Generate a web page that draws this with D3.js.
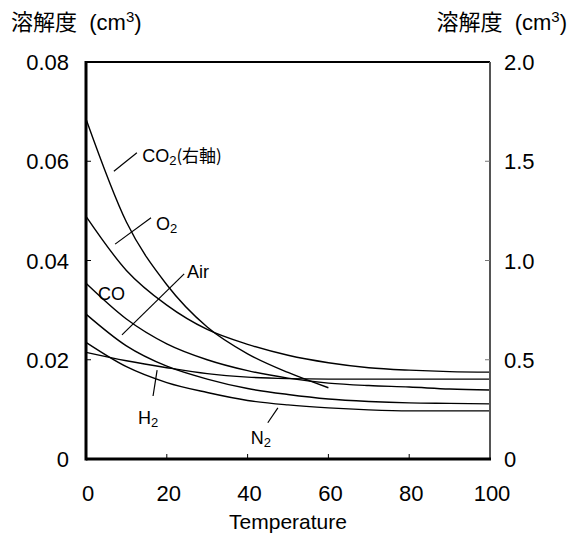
<!DOCTYPE html>
<html><head><meta charset="utf-8">
<script src="https://cdn.jsdelivr.net/npm/d3@7"></script>
<style>
body{margin:0;background:#fff;}
text{font-family:"Liberation Sans",Arial,"Noto Sans CJK JP",sans-serif;fill:#000;}
.cjk{font-family:"Noto Sans CJK JP",sans-serif;}
</style></head><body>
<svg id="c" width="571" height="535"></svg>
<script>
const temps = [0,10,20,30,40,50,60,70,80,90,100];
const co2Temps = [0,10,20,30,40,50,60];
const co2 = [1.713,1.194,0.878,0.665,0.530,0.436,0.359]; // right axis
const o2  = [0.0489,0.0380,0.0310,0.0261,0.0231,0.0209,0.0194,0.0184,0.0179,0.0176,0.0175];
const co  = [0.0354,0.0282,0.0232,0.0200,0.0178,0.0163,0.0153,0.0148,0.0145,0.0141,0.0139];
const air = [0.0292,0.0228,0.0187,0.0161,0.0142,0.0130,0.0121,0.0116,0.0113,0.0112,0.0111];
const n2  = [0.0235,0.0186,0.0154,0.0134,0.0118,0.0109,0.0103,0.0099,0.0097,0.0097,0.0097];
const h2  = [0.0215,0.0198,0.0184,0.0172,0.0165,0.0162,0.0161,0.0161,0.0161,0.0161,0.0161];
const xTicks = [0,20,40,60,80,100];
const yLeftTicks = [0,0.02,0.04,0.06,0.08];
const yLeftLabels = ["0","0.02","0.04","0.06","0.08"];
const yRightTicks = [0,0.5,1.0,1.5,2.0];
const yRightLabels = ["0","0.5","1.0","1.5","2.0"];
const axisTitle = "溶解度";
const xTitle = "Temperature";
// annotations in data coords (T, left-axis value)
const labels = [
  {main:"CO", sub:"2", tail:"(右軸)", t:13.9, v:0.0613, line:[[6.9,0.0580],[12.6,0.0617]]},
  {main:"O", sub:"2", tail:"", t:17.3, v:0.0476, line:[[7.2,0.0433],[16.1,0.0486]]},
  {main:"Air", sub:"", tail:"", t:25.0, v:0.0379, line:[[8.9,0.0250],[24.3,0.0373]]},
  {main:"CO", sub:"", tail:"", t:3.0, v:0.0334, line:null},
  {main:"H", sub:"2", tail:"", t:12.9, v:0.0085, line:[[16.6,0.0127],[17.6,0.0179]]},
  {main:"N", sub:"2", tail:"", t:40.8, v:0.0044, line:[[45,0.0073],[47.5,0.0103]]}
];

const svg = d3.select("#c");
const L=86, R=490, T=62, B=459;
const x = d3.scaleLinear().domain([0,100]).range([L,R]);
const y = d3.scaleLinear().domain([0,0.08]).range([B,T]);
const y2 = d3.scaleLinear().domain([0,2.0]).range([B,T]);

// curves
const line = d3.line().curve(d3.curveMonotoneX);
function drawSeries(ts, vs, ys){
  svg.append("path").attr("d", line(ts.map((t,i)=>[x(t), ys(vs[i])])))
    .attr("fill","none").attr("stroke","#000").attr("stroke-width",1.4);
}
[o2,co,air,n2,h2].forEach(s=>drawSeries(temps,s,y));
drawSeries(co2Temps,co2,y2);

// frame
svg.append("line").attr("x1",L).attr("x2",R).attr("y1",T).attr("y2",T).attr("stroke","#000").attr("stroke-width",2);
svg.append("line").attr("x1",R).attr("x2",R).attr("y1",T).attr("y2",B).attr("stroke","#555").attr("stroke-width",2);
svg.append("line").attr("x1",L).attr("x2",R+1).attr("y1",B).attr("y2",B).attr("stroke","#000").attr("stroke-width",3);
svg.append("line").attr("x1",L).attr("x2",L).attr("y1",T-1).attr("y2",B+1.5).attr("stroke","#000").attr("stroke-width",3);

// ticks inward
const tl=5;
xTicks.slice(1,-1).forEach(t=>svg.append("line").attr("x1",x(t)).attr("x2",x(t)).attr("y1",B).attr("y2",B-tl).attr("stroke","#000").attr("stroke-width",1));
yLeftTicks.slice(1,-1).forEach(t=>svg.append("line").attr("x1",L).attr("x2",L+tl).attr("y1",y(t)).attr("y2",y(t)).attr("stroke","#000").attr("stroke-width",1));
yRightTicks.slice(1,-1).forEach(t=>svg.append("line").attr("x1",R).attr("x2",R-tl).attr("y1",y2(t)).attr("y2",y2(t)).attr("stroke","#777").attr("stroke-width",1));

// tick labels
const fs=22;
xTicks.forEach(t=>svg.append("text").attr("x",x(t)+2).attr("y",B+42).attr("text-anchor","middle").attr("font-size",fs).text(t));
yLeftTicks.forEach((t,i)=>svg.append("text").attr("x",L-17).attr("y",y(t)+8).attr("text-anchor","end").attr("font-size",fs).text(yLeftLabels[i]));
yRightTicks.forEach((t,i)=>svg.append("text").attr("x",R+14).attr("y",y2(t)+8).attr("text-anchor","start").attr("font-size",fs).text(yRightLabels[i]));

// axis titles
function unitTitle(xp, anchor){
  const tx = svg.append("text").attr("x",xp).attr("y",30).attr("text-anchor",anchor).attr("font-size",22);
  tx.append("tspan").attr("class","cjk").text(axisTitle);
  tx.append("tspan").text("\u00a0\u00a0(cm");
  tx.append("tspan").attr("font-size",15).attr("dy",-8).text("3");
  tx.append("tspan").attr("dy",8).text(")");
}
unitTitle(11,"start");
unitTitle(567,"end");
svg.append("text").attr("x",(L+R)/2).attr("y",529).attr("text-anchor","middle").attr("font-size",21).text(xTitle);

// annotations
labels.forEach(d=>{
  if(d.line){
    svg.append("line").attr("x1",x(d.line[0][0])).attr("y1",y(d.line[0][1]))
      .attr("x2",x(d.line[1][0])).attr("y2",y(d.line[1][1])).attr("stroke","#000").attr("stroke-width",1.2);
  }
  const tx = svg.append("text").attr("x",x(d.t)).attr("y",y(d.v)+7).attr("font-size",18);
  tx.append("tspan").text(d.main);
  if(d.sub) tx.append("tspan").attr("font-size",13).attr("dy",3).text(d.sub);
  if(d.tail) tx.append("tspan").attr("class","cjk").attr("font-size",17).attr("dy",-3).text(d.tail);
});
</script></body></html>
